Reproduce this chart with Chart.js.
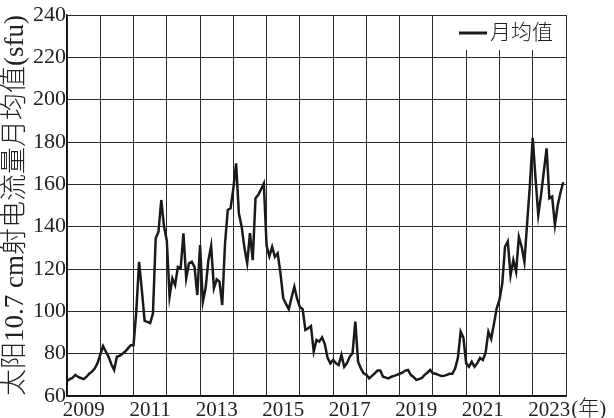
<!DOCTYPE html>
<html>
<head>
<meta charset="utf-8">
<script src="https://cdn.jsdelivr.net/npm/chart.js@4"></script>
<style>
  html, body { margin: 0; padding: 0; background: #fff; }
  #wrap { width: 614px; height: 418px; }
</style>
</head>
<body>
<div id="wrap"><canvas id="c" width="614" height="418"></canvas></div>
<script>
// Monthly mean solar 10.7 cm radio flux (sfu), January..December of each year
const flux2009 = [67, 68, 68.6, 70, 69, 68.5, 68, 69, 70.5, 71.5, 73, 75.5];
const flux2010 = [79.5, 83.6, 81, 78.5, 75, 72.3, 78.6, 79, 80, 81, 82.5, 84];
const flux2011 = [84, 100, 123.4, 110, 95.5, 95, 94.5, 99, 134.5, 137.6, 152.6, 140];
const flux2012 = [133.5, 107, 115.6, 112.4, 121, 120.3, 136.9, 115.6, 122.7, 123.4, 121, 107.7];
const flux2013 = [131.3, 104.5, 111, 124, 130.9, 110.9, 115.1, 114, 103, 132, 147.9, 148.7];
const flux2014 = [158, 169.9, 146.3, 140, 130, 122.7, 136.9, 124.2, 153.4, 155, 157.7, 160.4];
const flux2015 = [131, 126, 130.5, 125.8, 127.4, 118, 106.2, 103.5, 101, 106.5, 111.6, 106];
const flux2016 = [102, 101, 91.2, 92, 93, 81, 86.5, 85.7, 87.7, 84.5, 78, 75.4];
const flux2017 = [77, 75.5, 74.6, 79.4, 73.8, 75.5, 78.6, 80.2, 95.1, 76.2, 73, 70.7];
const flux2018 = [70, 68.3, 69.5, 70.7, 72, 72, 69.1, 68.7, 68.3, 69.1, 69.5, 70];
const flux2019 = [70.5, 71, 72, 72.3, 70, 69, 67.6, 68, 68.5, 70, 71, 72.3];
const flux2020 = [70.7, 70.5, 70, 69.4, 69.5, 70, 70.5, 70.5, 73, 78, 90.4, 87.5];
const flux2021 = [75.4, 73.8, 76.2, 73.8, 75.5, 78, 77, 80.5, 90.4, 87, 94, 101.4];
const flux2022 = [105.4, 113, 130.5, 133, 117, 124.2, 118.7, 135.2, 130.5, 123.4, 142, 160];
const flux2023 = [182, 163, 145.5, 155, 166, 177, 153.4, 154.2, 140.8, 150, 156, 161];

const years = [2009, 2010, 2011, 2012, 2013, 2014, 2015, 2016, 2017, 2018, 2019, 2020, 2021, 2022, 2023];
const yearlyFlux = [flux2009, flux2010, flux2011, flux2012, flux2013, flux2014, flux2015,
                    flux2016, flux2017, flux2018, flux2019, flux2020, flux2021, flux2022, flux2023];
const yearTickLabels = [2009, 2011, 2013, 2015, 2017, 2019, 2021, 2023];
const yearUnit = '(年)';
const seriesName = '月均值';
const yTitle = '太阳10.7 cm射电流量月均值(sfu)';

// one point per month, placed at the start of its month on a decimal-year axis
const points = [];
years.forEach((yr, i) => {
  yearlyFlux[i].forEach((v, m) => points.push({ x: yr + m / 12, y: v }));
});

const FONT = "'Liberation Serif', 'Noto Sans CJK SC', serif";
const GRID = '#2b2b2b';

// legend box with white background in the top-right corner of the plot,
// plus the year unit after the last axis label
const extras = {
  id: 'extras',
  afterDatasetsDraw(chart) {
    const { ctx, chartArea } = chart;
    const ds = chart.data.datasets[0];
    ctx.save();
    ctx.fillStyle = '#fff';
    ctx.fillRect(chartArea.right - 115, chartArea.top + 1, 114, 34);
    ctx.strokeStyle = ds.borderColor;
    ctx.lineWidth = 3;
    ctx.beginPath();
    ctx.moveTo(chartArea.right - 107, chartArea.top + 18);
    ctx.lineTo(chartArea.right - 79, chartArea.top + 18);
    ctx.stroke();
    ctx.fillStyle = '#222';
    ctx.font = "300 21px " + FONT;
    ctx.textBaseline = 'middle';
    ctx.textAlign = 'left';
    ctx.fillText(ds.label, chartArea.right - 76, chartArea.top + 18);

    const xs = chart.scales.x;
    const last = yearTickLabels[yearTickLabels.length - 1];
    ctx.font = "21px " + FONT;
    const half = ctx.measureText(String(last)).width / 2;
    ctx.font = "300 21px " + FONT;
    ctx.textBaseline = 'middle';
    ctx.fillText(yearUnit, xs.getPixelForValue(last + 0.5) + half + 1, xs.top + 13);
    ctx.restore();
  }
};

new Chart(document.getElementById('c'), {
  type: 'line',
  data: {
    datasets: [{
      label: seriesName,
      data: points,
      borderColor: '#1a1a1a',
      borderWidth: 2.5,
      pointRadius: 0,
      tension: 0,
      fill: false
    }]
  },
  options: {
    responsive: false,
    animation: false,
    layout: { padding: { top: 15, right: 48, left: 0, bottom: 0 } },
    plugins: { legend: { display: false }, tooltip: { enabled: false } },
    scales: {
      x: {
        type: 'linear',
        min: 2009,
        max: 2024,
        afterBuildTicks(scale) {
          const t = [];
          for (let v = 2009; v <= 2024; v += 0.5) t.push({ value: v });
          scale.ticks = t;
        },
        afterFit(scale) { scale.height = 22; },
        grid: {
          drawTicks: false,
          lineWidth: 1,
          color: (c) => (c.tick && Number.isInteger(c.tick.value)) ? GRID : 'rgba(0,0,0,0)'
        },
        border: { color: '#111', width: 1.5 },
        ticks: {
          autoSkip: false,
          maxRotation: 0,
          padding: 2,
          color: '#222',
          font: { family: FONT, size: 21 },
          callback: (v) => {
            const yr = Math.floor(v);
            return (v - yr === 0.5 && yearTickLabels.includes(yr)) ? String(yr) : '';
          }
        }
      },
      y: {
        min: 60,
        max: 240,
        afterFit(scale) { scale.width = 67; },
        grid: { drawTicks: false, lineWidth: 1, color: GRID },
        border: { color: '#111', width: 1.5 },
        ticks: {
          stepSize: 20,
          padding: 1,
          color: '#222',
          font: { family: FONT, size: 22 }
        },
        title: {
          display: true,
          text: yTitle,
          color: '#222',
          font: { family: FONT, size: 27, weight: '300' },
          padding: { top: 0, bottom: 0 }
        }
      }
    }
  },
  plugins: [extras]
});
</script>
</body>
</html>
